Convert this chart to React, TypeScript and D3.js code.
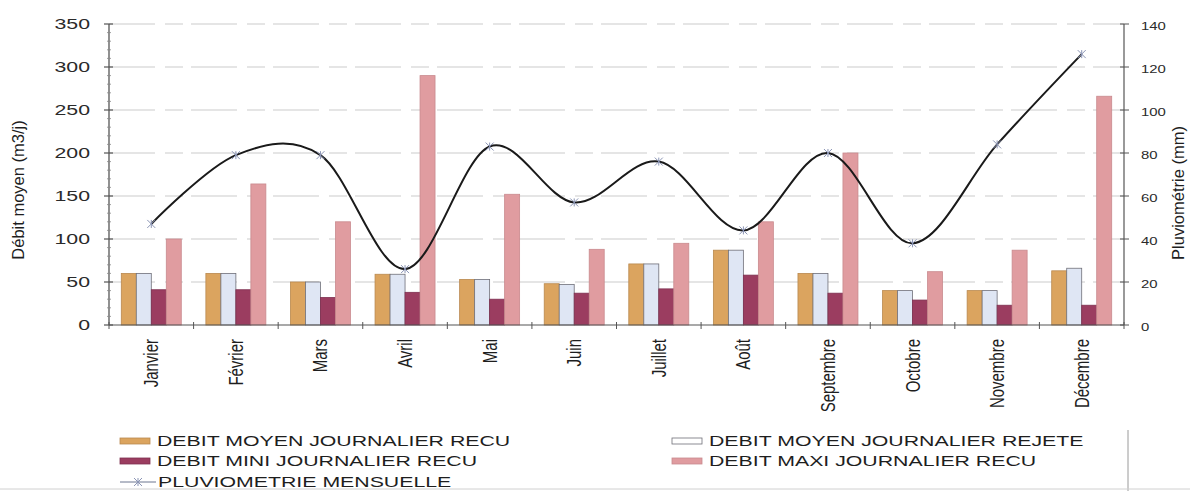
import React from "react";
import * as d3 from "d3";

const months = ["Janvier", "Février", "Mars", "Avril", "Mai", "Juin", "Juillet", "Août", "Septembre", "Octobre", "Novembre", "Décembre"];
const debitMoyenRecu = [60, 60, 50, 59, 53, 48, 71, 87, 60, 40, 40, 63];
const debitMoyenRejete = [60, 60, 50, 59, 53, 47, 71, 87, 60, 40, 40, 66];
const debitMiniRecu = [41, 41, 32, 38, 30, 37, 42, 58, 37, 29, 23, 23];
const debitMaxiRecu = [100, 164, 120, 290, 152, 88, 95, 120, 200, 62, 87, 266];
const pluviometrie = [47, 79, 79, 26, 83, 57, 76, 44, 80, 38, 84, 126];

const leftTicks = [0, 50, 100, 150, 200, 250, 300, 350];
const rightTicks = [0, 20, 40, 60, 80, 100, 120, 140];

const seriesKeys = ["moyRecu", "moyRejete", "mini", "maxi"];
const seriesData: Record<string, number[]> = {
  moyRecu: debitMoyenRecu,
  moyRejete: debitMoyenRejete,
  mini: debitMiniRecu,
  maxi: debitMaxiRecu,
};
const seriesFill: Record<string, string> = {
  moyRecu: "#dba45f",
  moyRejete: "#dfe6f4",
  mini: "#9b3d60",
  maxi: "#e09ca0",
};
const seriesStroke: Record<string, string> = {
  moyRecu: "#b9894f",
  moyRejete: "#6f6f78",
  mini: "#7e3050",
  maxi: "#c98a8e",
};

const W = 1190;
const H = 491;
const X0 = 109;
const X1 = 1124;
const YB = 325;
const YT = 24;
const FONT = "'Liberation Sans', Arial, Helvetica, sans-serif";
const SX = 1.42;

export default function App() {
  const x = d3.scaleBand<string>().domain(months).range([X0, X1]).padding(0);
  const xs = d3.scaleBand<string>().domain(seriesKeys).range([0, x.bandwidth()]).paddingInner(0).paddingOuter(0.82);
  const yL = d3.scaleLinear().domain([0, 350]).range([YB, YT]);
  const yR = d3.scaleLinear().domain([0, 140]).range([YB, YT]);

  const line = d3
    .line<number>()
    .x((_, i) => (x(months[i]) as number) + x.bandwidth() / 2)
    .y((d) => yR(d))
    .curve(d3.curveCardinal.tension(0));

  const minorTicks = d3.range(0, 351, 10).filter((v) => v % 50 !== 0);
  const boundaries = months.map((m) => x(m) as number).concat([X1]);

  const marker = (cx: number, cy: number, key: string | number) => (
    <g key={key} stroke="#8b95b5" strokeWidth={1}>
      <line x1={cx - 4} y1={cy - 4} x2={cx + 4} y2={cy + 4} />
      <line x1={cx - 4} y1={cy + 4} x2={cx + 4} y2={cy - 4} />
      <line x1={cx} y1={cy - 4} x2={cx} y2={cy + 4} />
    </g>
  );

  const legendItems = [
    { key: "moyRecu", label: "DEBIT MOYEN JOURNALIER RECU", x: 120, y: 441 },
    { key: "moyRejete", label: "DEBIT MOYEN JOURNALIER REJETE", x: 672, y: 441 },
    { key: "mini", label: "DEBIT MINI JOURNALIER RECU", x: 120, y: 461 },
    { key: "maxi", label: "DEBIT MAXI JOURNALIER RECU", x: 672, y: 461 },
  ];

  return (
    <svg
      width={W}
      height={H}
      viewBox={`0 0 ${W} ${H}`}
      style={{ position: "absolute", left: 0, top: 0, display: "block", background: "#fff" }}
      fontFamily={FONT}
    >
      <rect x={0} y={0} width={W} height={H} fill="#fff" />

      {/* gridlines */}
      {leftTicks.slice(1).map((t) => (
        <line
          key={"g" + t}
          x1={X0}
          x2={X1}
          y1={yL(t)}
          y2={yL(t)}
          stroke="#9a9a9a"
          strokeOpacity={0.5}
          strokeWidth={1}
          strokeDasharray="46 10 18 8"
        />
      ))}

      {/* bars */}
      {months.map((m, i) => (
        <g key={m} transform={`translate(${x(m)},0)`}>
          {seriesKeys.map((k) => {
            const v = seriesData[k][i];
            return (
              <rect
                key={k}
                x={xs(k)}
                y={yL(v)}
                width={xs.bandwidth()}
                height={YB - yL(v)}
                fill={seriesFill[k]}
                stroke={seriesStroke[k]}
                strokeWidth={0.8}
              />
            );
          })}
        </g>
      ))}

      {/* rain line */}
      <path d={line(pluviometrie) || ""} fill="none" stroke="#1a1a1a" strokeWidth={2} />
      {pluviometrie.map((v, i) => marker((x(months[i]) as number) + x.bandwidth() / 2, yR(v), "m" + i))}

      {/* left axis */}
      <line x1={X0} x2={X0} y1={YT} y2={YB} stroke="#555" strokeWidth={1.3} />
      {leftTicks.map((t) => (
        <g key={"lt" + t}>
          <line x1={X0 - 5} x2={X0 + 4} y1={yL(t)} y2={yL(t)} stroke="#555" strokeWidth={1.2} />
          <text
            transform={`translate(90,${yL(t)}) scale(${SX},1)`}
            textAnchor="end"
            dy="0.36em"
            fontSize={15}
            fill="#2a2a2a"
          >
            {t}
          </text>
        </g>
      ))}
      {minorTicks.map((t) => (
        <line key={"mt" + t} x1={X0 - 2} x2={X0 + 2} y1={yL(t)} y2={yL(t)} stroke="#888" strokeWidth={0.8} />
      ))}

      {/* right axis */}
      <line x1={X1} x2={X1} y1={YT} y2={YB} stroke="#555" strokeWidth={1.2} />
      {rightTicks.map((t) => (
        <g key={"rt" + t}>
          <line x1={X1 - 4} x2={X1 + 5} y1={yR(t)} y2={yR(t)} stroke="#555" strokeWidth={1} />
          <text
            transform={`translate(1141,${yR(t) + 2}) scale(${SX},1)`}
            textAnchor="start"
            dy="0.36em"
            fontSize={10.5}
            fill="#2a2a2a"
          >
            {t}
          </text>
        </g>
      ))}

      {/* bottom axis */}
      <line x1={X0} x2={X1} y1={YB} y2={YB} stroke="#555" strokeWidth={1.2} />
      {boundaries.map((b, i) => (
        <line key={"bt" + i} x1={b} x2={b} y1={YB - 3} y2={YB + 4} stroke="#555" strokeWidth={1} />
      ))}
      {months.map((m) => (
        <text
          key={"lab" + m}
          transform={`translate(${(x(m) as number) + x.bandwidth() / 2},339) scale(1.3,1) rotate(-90)`}
          textAnchor="end"
          dy="0.36em"
          fontSize={15}
          fill="#1e1e1e"
        >
          {m}
        </text>
      ))}

      {/* axis titles */}
      <text transform="translate(18,190) rotate(-90)" textAnchor="middle" dy="0.36em" fontSize={16.5} fill="#1e1e1e">
        Débit moyen (m3/j)
      </text>
      <text transform="translate(1178,193) rotate(-90)" textAnchor="middle" dy="0.36em" fontSize={16.5} fill="#1e1e1e">
        Pluviométrie (mm)
      </text>

      {/* legend */}
      <line x1={1128} x2={1128} y1={430} y2={491} stroke="#9a9a9a" strokeWidth={1} />
      <line x1={0} x2={W} y1={489} y2={489} stroke="#d0d0d0" strokeWidth={1} />
      {legendItems.map((it) => (
        <g key={"lg" + it.key}>
          <rect
            x={it.x}
            y={it.y - 3}
            width={30}
            height={6}
            fill={it.key === "moyRejete" ? "#fff" : seriesFill[it.key]}
            stroke={seriesStroke[it.key]}
            strokeWidth={0.8}
          />
          <text
            transform={`translate(${it.x + 37},${it.y}) scale(${SX},1)`}
            dy="0.36em"
            fontSize={15}
            fill="#1e1e1e"
          >
            {it.label}
          </text>
        </g>
      ))}
      <g>
        <line x1={120} x2={156} y1={482} y2={482} stroke="#6d7690" strokeWidth={1} />
        {marker(138, 482, "lm")}
        <text transform={`translate(158,482) scale(${SX},1)`} dy="0.36em" fontSize={15} fill="#1e1e1e">
          PLUVIOMETRIE MENSUELLE
        </text>
      </g>
    </svg>
  );
}
